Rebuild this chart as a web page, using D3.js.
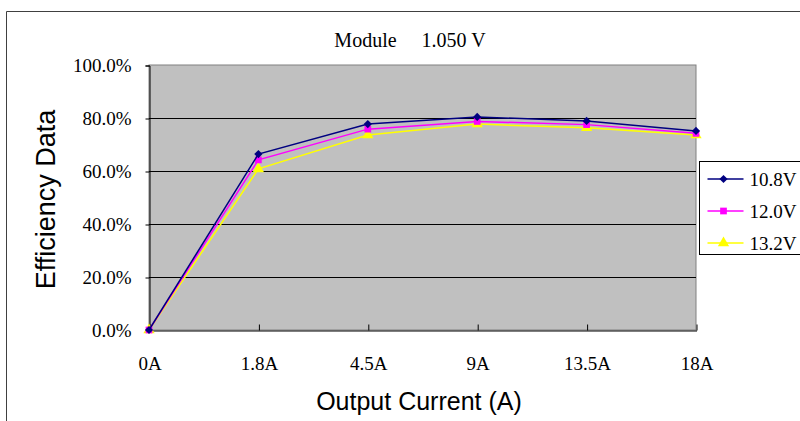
<!DOCTYPE html>
<html>
<head>
<meta charset="utf-8">
<script src="https://cdn.jsdelivr.net/npm/d3@7"></script>
<style>
  body { margin: 0; background: #fff; }
  svg { display: block; }
</style>
</head>
<body>
<div id="chart"></div>
<script>
// Data
const categories = ["0A", "1.8A", "4.5A", "9A", "13.5A", "18A"];
const seriesNames = ["10.8V", "12.0V", "13.2V"];
const v108 = [0, 66.4, 77.7, 80.4, 78.9, 75.1];
const v120 = [0, 64.2, 75.8, 78.7, 77.5, 74.2];
const v132 = [0, 60.8, 73.6, 77.7, 76.3, 73.6];
const yTicks = [0, 20, 40, 60, 80, 100];

(function () {
  const width = 800;
  const height = 421;
  const margin = { top: 65, right: 104, bottom: 91, left: 149 };
  const serif = "'Liberation Serif', 'Times New Roman', serif";
  const sans = "'Liberation Sans', Arial, sans-serif";

  const svg = d3
    .select("#chart")
    .append("svg")
    .attr("width", width)
    .attr("height", height);

  // outer chart frame
  svg
    .append("path")
    .attr("d", `M6.5,${height} V11.5 H${width}`)
    .attr("fill", "none")
    .attr("stroke", "#404040")
    .attr("stroke-width", 1);

  const x = d3
    .scalePoint()
    .domain(categories)
    .range([margin.left, width - margin.right]);

  const y = d3
    .scaleLinear()
    .domain([0, 100])
    .range([height - margin.bottom, margin.top]);

  // plot background
  svg
    .append("rect")
    .attr("x", margin.left)
    .attr("y", margin.top)
    .attr("width", width - margin.right - margin.left)
    .attr("height", height - margin.bottom - margin.top)
    .attr("fill", "#c0c0c0")
    .attr("stroke", "#808080");

  // grid lines
  svg
    .append("g")
    .selectAll("line")
    .data(yTicks.slice(1, -1))
    .enter()
    .append("line")
    .attr("x1", margin.left)
    .attr("x2", width - margin.right)
    .attr("y1", (d) => Math.round(y(d)) + 0.5)
    .attr("y2", (d) => Math.round(y(d)) + 0.5)
    .attr("stroke", "#000");

  // y axis
  const yAxis = svg
    .append("g")
    .attr("transform", `translate(${margin.left + 0.5}, 0.5)`)
    .call(
      d3
        .axisLeft(y)
        .tickValues(yTicks)
        .tickSize(4)
        .tickFormat((d) => d.toFixed(1) + "%")
    );
  yAxis.select(".domain").attr("stroke", "#000");
  yAxis
    .selectAll("text")
    .attr("x", -18)
    .style("font-family", serif)
    .style("font-size", "19px")
    .style("fill", "#000");

  // x axis, ticks pointing inward
  const xAxis = svg
    .append("g")
    .attr("transform", `translate(0.5, ${height - margin.bottom + 0.5})`)
    .call(d3.axisBottom(x).tickSizeInner(-6).tickSizeOuter(0));
  xAxis.select(".domain").attr("stroke", "#000");
  xAxis
    .selectAll("text")
    .attr("y", 39)
    .attr("dy", null)
    .style("font-family", serif)
    .style("font-size", "19px")
    .style("fill", "#000");

  // diamond = square turned 45 degrees, like the Excel marker
  const series = [
    { name: seriesNames[0], values: v108, color: "#000080", symbol: d3.symbolSquare, size: 34, rot: 45 },
    { name: seriesNames[1], values: v120, color: "#ff00ff", symbol: d3.symbolSquare, size: 45, rot: 0 },
    { name: seriesNames[2], values: v132, color: "#ffff00", symbol: d3.symbolTriangle, size: 55, rot: 0 },
  ];

  const line = d3
    .line()
    .x((d, i) => x(categories[i]))
    .y((d) => y(d));

  // draw the lowest series first so navy ends up on top
  series
    .slice()
    .reverse()
    .forEach((s) => {
      svg
        .append("path")
        .datum(s.values)
        .attr("d", line)
        .attr("fill", "none")
        .attr("stroke", s.color)
        .attr("stroke-width", 1.5);

      svg
        .selectAll(".pt-" + s.name.replace(".", ""))
        .data(s.values)
        .enter()
        .append("path")
        .attr(
          "transform",
          (d, i) => `translate(${x(categories[i])}, ${y(d)}) rotate(${s.rot})`
        )
        .attr("d", d3.symbol().type(s.symbol).size(s.size))
        .attr("fill", s.color);
    });

  // title
  svg
    .append("text")
    .attr("x", 410)
    .attr("y", 47)
    .attr("text-anchor", "middle")
    .style("font-family", serif)
    .style("font-size", "20px")
    .style("white-space", "pre")
    .text("Module     1.050 V");

  // axis titles
  svg
    .append("text")
    .attr("transform", `translate(55, ${(margin.top + height - margin.bottom) / 2 + 2}) rotate(-90)`)
    .attr("text-anchor", "middle")
    .style("font-family", sans)
    .style("font-size", "27px")
    .text("Efficiency Data");

  svg
    .append("text")
    .attr("x", 419)
    .attr("y", 410)
    .attr("text-anchor", "middle")
    .style("font-family", sans)
    .style("font-size", "25px")
    .text("Output Current (A)");

  // legend
  const legend = svg.append("g").attr("transform", "translate(699.5, 161.5)");
  legend
    .append("rect")
    .attr("width", 110)
    .attr("height", 93)
    .attr("fill", "#fff")
    .attr("stroke", "#000");

  const item = legend
    .selectAll(".item")
    .data(series)
    .enter()
    .append("g")
    .attr("transform", (d, i) => `translate(0, ${17.5 + i * 32})`);

  item
    .append("line")
    .attr("x1", 8)
    .attr("x2", 44)
    .attr("stroke", (d) => d.color)
    .attr("stroke-width", 1.5);

  item
    .append("path")
    .attr("transform", (d) => `translate(24, 0) rotate(${d.rot})`)
    .attr("d", (d) => d3.symbol().type(d.symbol).size(d.size)())
    .attr("fill", (d) => d.color);

  item
    .append("text")
    .attr("x", 50)
    .attr("dy", "0.35em")
    .style("font-family", serif)
    .style("font-size", "19px")
    .text((d) => d.name);
})();
</script>
</body>
</html>
